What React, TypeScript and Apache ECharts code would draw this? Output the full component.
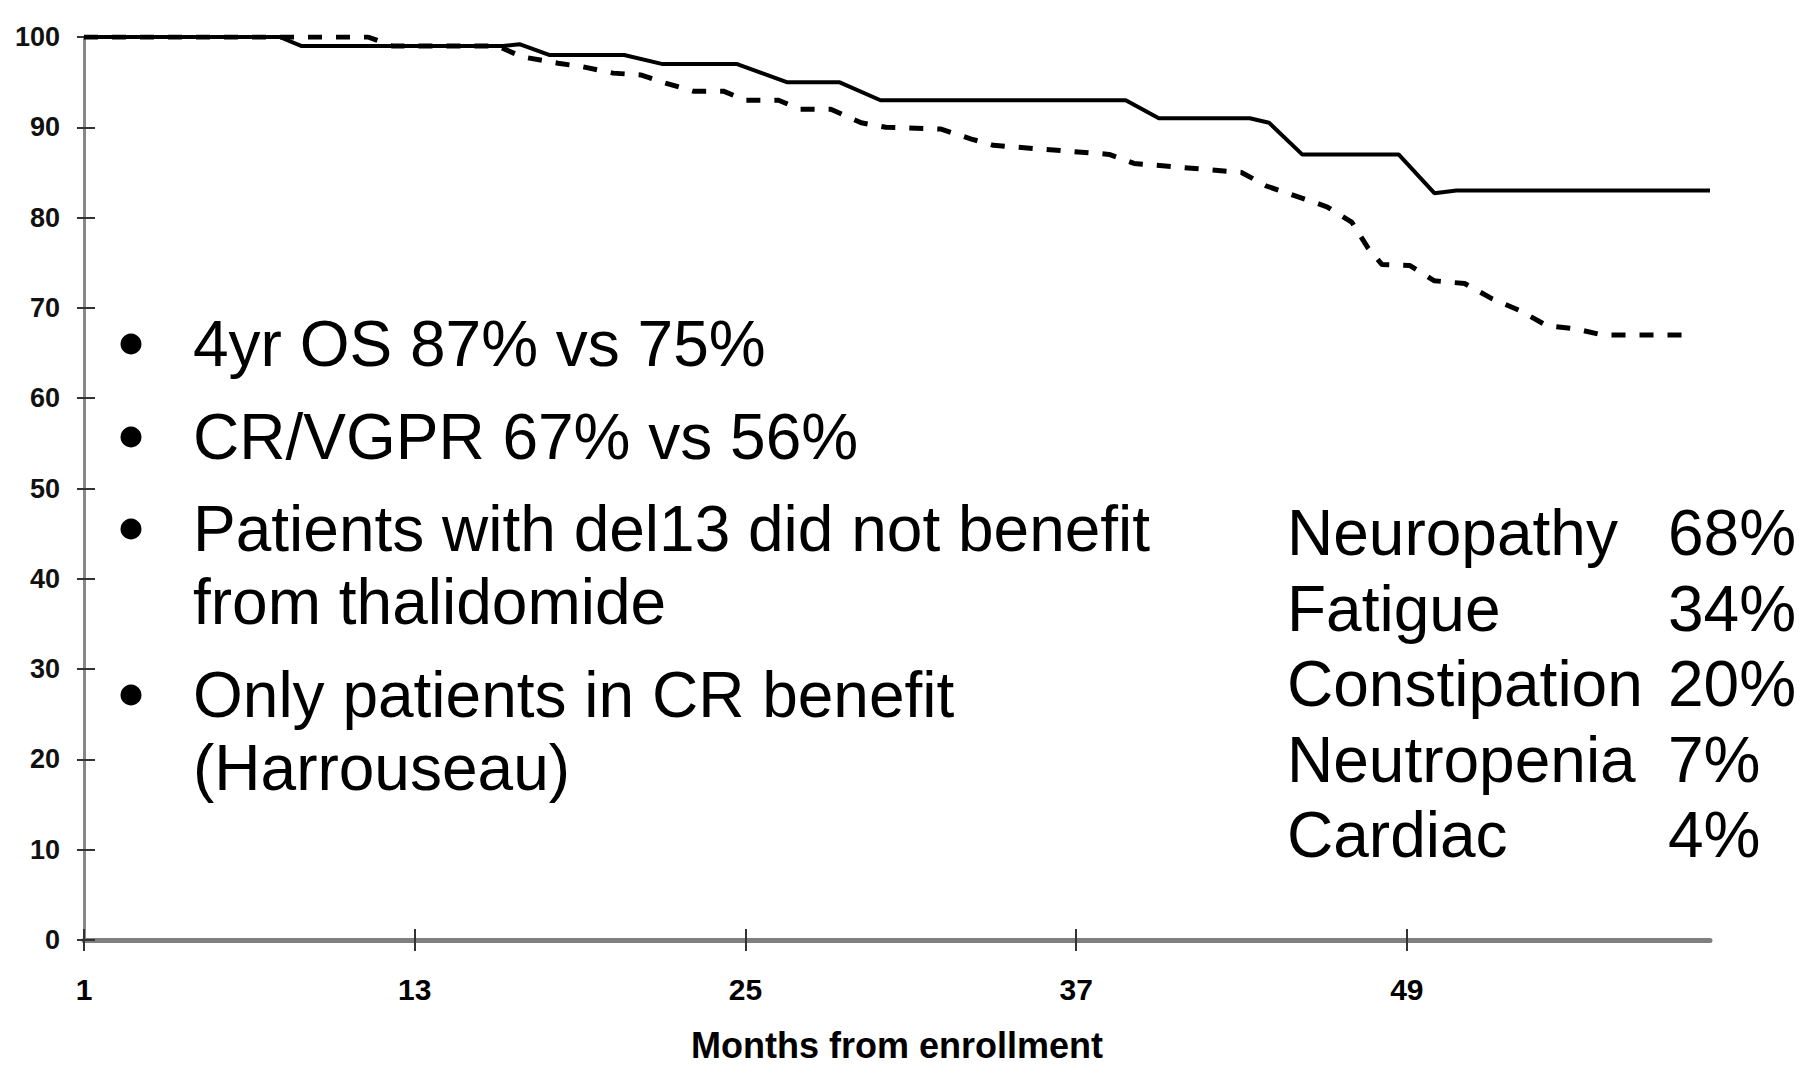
import React, { useEffect, useRef } from "react";
import * as echarts from "echarts";

// Kaplan-Meier style survival curves (month, % surviving)
const solidArm: [number, number][] = [
  [1, 100], [8.1, 100], [8.9, 99], [16.2, 99], [16.8, 99.2], [17.9, 98],
  [20.6, 98], [22, 97], [24.7, 97], [26.5, 95], [28.4, 95], [29.9, 93],
  [38.8, 93], [40, 91], [43.3, 91], [44, 90.5], [45.2, 87], [48.7, 87],
  [50, 82.7], [50.8, 83], [60, 83],
];
const dashedArm: [number, number][] = [
  [1, 100], [11.3, 100], [12.2, 99], [16, 99], [16.9, 97.8], [18.2, 97.1],
  [19.1, 96.7], [20.2, 96], [21.2, 95.8], [22.1, 94.9], [23.1, 94], [24.2, 94],
  [25, 93], [26.2, 93], [27, 92], [28.1, 92], [29.2, 90.5], [30.1, 90],
  [32.1, 89.8], [33.2, 88.7], [34, 88], [38.2, 87], [39.1, 86], [43, 85],
  [43.9, 83.5], [46.1, 81.2], [47, 79.5], [47.6, 76.6], [48.1, 74.8],
  [49.1, 74.7], [50, 73], [51.1, 72.7], [52.1, 71], [53.1, 69.7], [54.1, 68],
  [55.1, 67.7], [56.1, 67], [59.4, 67],
];
const xTicks = [1, 13, 25, 37, 49];
const xAxisName = "Months from enrollment";
const bulletLines = [
  { text: "4yr OS 87% vs 75%", bullet: true },
  { text: "CR/VGPR 67% vs 56%", bullet: true },
  { text: "Patients with del13 did not benefit", bullet: true },
  { text: "from thalidomide", bullet: false },
  { text: "Only patients in CR benefit", bullet: true },
  { text: "(Harrouseau)", bullet: false },
];
const toxNames = ["Neuropathy", "Fatigue", "Constipation", "Neutropenia", "Cardiac"];
const toxRates = ["68%", "34%", "20%", "7%", "4%"];

const FONT = "'Liberation Sans', Arial, Helvetica, sans-serif";

export default function App() {
  const ref = useRef<HTMLDivElement>(null);
  useEffect(() => {
    if (!ref.current) return;
    const chart = echarts.init(ref.current, null, { renderer: "svg" });

    const bulletY = [344, 437, 529, 602, 695, 768];
    const toxY = [533, 608.5, 684, 759.5, 835];
    const graphics: any[] = [];
    bulletLines.forEach((l, i) => {
      if (l.bullet) {
        graphics.push({
          type: "circle",
          shape: { cx: 131, cy: bulletY[i], r: 10.5 },
          style: { fill: "#000" },
          z: 10,
        });
      }
      graphics.push({
        type: "text",
        x: 193,
        y: bulletY[i],
        style: {
          text: l.text,
          font: `64px ${FONT}`,
          fill: "#000",
          verticalAlign: "middle",
          align: "left",
        },
        z: 10,
      });
    });
    toxNames.forEach((n, i) => {
      graphics.push({
        type: "text",
        x: 1287,
        y: toxY[i],
        style: { text: n, font: `64px ${FONT}`, fill: "#000", verticalAlign: "middle" },
        z: 10,
      });
      graphics.push({
        type: "text",
        x: 1668,
        y: toxY[i],
        style: { text: toxRates[i], font: `64px ${FONT}`, fill: "#000", verticalAlign: "middle" },
        z: 10,
      });
    });

    chart.setOption({
      animation: false,
      backgroundColor: "#fff",
      grid: { left: 84, right: 104, top: 37, bottom: 122, containLabel: false },
      xAxis: [
        {
          type: "value",
          min: 1,
          max: 60,
          position: "bottom",
          name: xAxisName,
          nameLocation: "middle",
          nameGap: 87,
          nameTextStyle: { fontFamily: FONT, fontWeight: "bold", fontSize: 36, color: "#000" },
          axisLine: { show: true, lineStyle: { color: "#7f7f7f", width: 5 } },
          axisTick: { show: true, length: 11, customValues: xTicks, lineStyle: { color: "#333", width: 2 } },
          axisLabel: {
            customValues: xTicks,
            margin: 34,
            fontFamily: FONT,
            fontWeight: "bold",
            fontSize: 30,
            color: "#000",
          },
          splitLine: { show: false },
        },
        {
          type: "value",
          min: 1,
          max: 60,
          position: "bottom",
          axisLine: { show: false },
          axisTick: { show: true, inside: true, length: 11, customValues: xTicks, lineStyle: { color: "#333", width: 2 } },
          axisLabel: { show: false },
          splitLine: { show: false },
        },
      ],
      yAxis: [
        {
          type: "value",
          min: 0,
          max: 100,
          interval: 10,
          position: "left",
          axisLine: { show: true, lineStyle: { color: "#888", width: 3 } },
          axisTick: { show: true, length: 7, lineStyle: { color: "#333", width: 2 } },
          axisLabel: {
            margin: 24,
            fontFamily: FONT,
            fontWeight: "bold",
            fontSize: 27,
            color: "#111",
          },
          splitLine: { show: false },
        },
        {
          type: "value",
          min: 0,
          max: 100,
          interval: 10,
          position: "left",
          axisLine: { show: false },
          axisTick: { show: true, inside: true, length: 11, lineStyle: { color: "#333", width: 2 } },
          axisLabel: { show: false },
          splitLine: { show: false },
        },
      ],
      series: [
        {
          name: "Control",
          type: "line",
          xAxisIndex: 0,
          yAxisIndex: 0,
          data: dashedArm,
          showSymbol: false,
          symbol: "none",
          lineStyle: { color: "#000", width: 5, type: [14, 14] },
          z: 3,
        },
        {
          name: "Thalidomide",
          type: "line",
          xAxisIndex: 0,
          yAxisIndex: 0,
          data: solidArm,
          showSymbol: false,
          symbol: "none",
          lineStyle: { color: "#000", width: 4 },
          z: 4,
        },
      ],
      graphic: graphics,
    });
    return () => chart.dispose();
  }, []);
  return (
    <div
      ref={ref}
      style={{ position: "absolute", left: 0, top: 0, width: 1814, height: 1068, background: "#fff" }}
    />
  );
}
